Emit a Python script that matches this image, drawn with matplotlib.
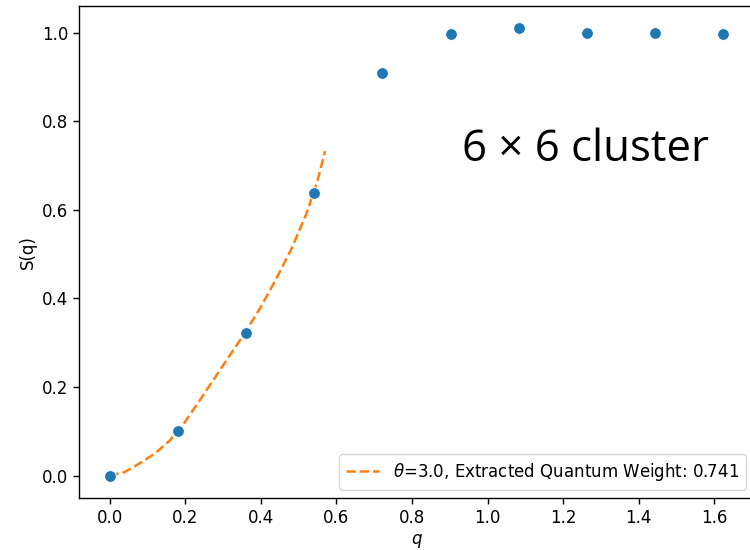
import matplotlib
matplotlib.use("Agg")
import matplotlib.pyplot as plt

# Structure factor on the 6x6 cluster
q_points = [0.0, 0.180, 0.361, 0.541, 0.722, 0.902, 1.083, 1.263, 1.444, 1.624]
s_points = [0.0, 0.101, 0.3225, 0.638, 0.909, 0.997, 1.010, 1.000, 1.000, 0.997]

# Small-q fit curve
q_fit = [0.00, 0.04, 0.08, 0.12, 0.16, 0.20, 0.24, 0.28, 0.32, 0.36,
         0.40, 0.44, 0.48, 0.52, 0.55, 0.57]
s_fit = [0.000, 0.008, 0.028, 0.050, 0.080, 0.122, 0.172, 0.223, 0.274, 0.325,
         0.381, 0.443, 0.510, 0.590, 0.665, 0.733]

fit_label = r"$\theta$=3.0, Extracted Quantum Weight: 0.741"
x_ticks = [0.0, 0.2, 0.4, 0.6, 0.8, 1.0, 1.2, 1.4, 1.6]
y_ticks = [0.0, 0.2, 0.4, 0.6, 0.8, 1.0]

fig = plt.figure(figsize=(7.5, 5.5), dpi=100)
ax = fig.add_axes([79 / 750, 52 / 550, 675 / 750, 492 / 550])

ax.scatter(q_points, s_points, s=72, color="#1f77b4", edgecolor="white",
           linewidth=0.7, zorder=3)
ax.plot(q_fit, s_fit, "--", color="#ff7f0e", linewidth=1.8, label=fit_label)

ax.set_xlim(-0.081, 1.705)
ax.set_ylim(-0.0505, 1.0605)
ax.set_xticks(x_ticks)
ax.set_yticks(y_ticks)
ax.tick_params(labelsize=12, length=4.2, width=1.0)
for spine in ax.spines.values():
    spine.set_linewidth(1.0)
ax.set_xlabel(r"$q$", fontsize=12)
ax.set_ylabel("S(q)", fontsize=12)

ax.legend(loc="lower right", fontsize=12)

fig.text(585 / 750, 1 - 150 / 550, "6 × 6 cluster", fontsize=31.5,
         family="Open Sans", ha="center", va="center", color="black")

fig.savefig("out.png", dpi=100)
